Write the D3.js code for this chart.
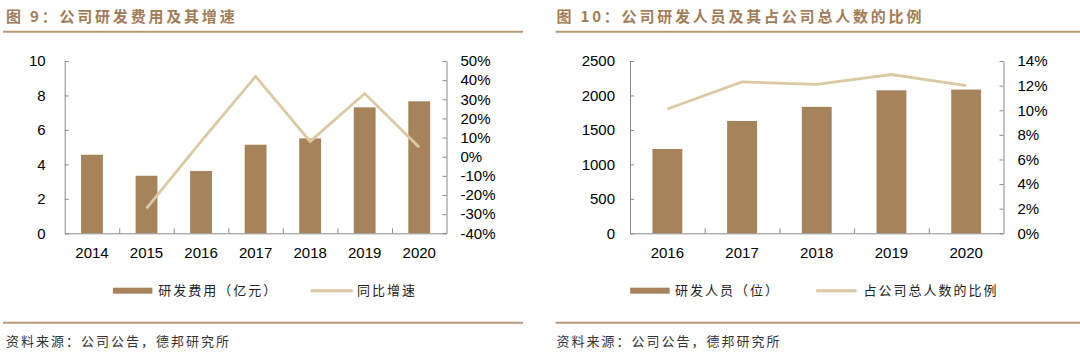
<!DOCTYPE html>
<html>
<head>
<meta charset="utf-8">
<script src="https://cdn.jsdelivr.net/npm/d3@7"></script>
<style>
  html, body { margin: 0; padding: 0; background: #fff; }
  svg { display: block; }
</style>
</head>
<body>
<svg id="chart" width="1080" height="355"></svg>
<script>
// ---------- Data ----------
const years1 = ["2014", "2015", "2016", "2017", "2018", "2019", "2020"];
const rdExpense = [4.56, 3.34, 3.62, 5.14, 5.51, 7.31, 7.66];        // 亿元
const rdGrowth = [null, -27, 8, 42, 8, 33, 5];                       // %
const leftTicks1 = [0, 2, 4, 6, 8, 10];
const rightTicks1 = [-40, -30, -20, -10, 0, 10, 20, 30, 40, 50];

const years2 = ["2016", "2017", "2018", "2019", "2020"];
const rdStaff = [1223, 1630, 1835, 2075, 2085];                      // 位
const staffRatio = [10.1, 12.3, 12.1, 12.9, 12.0];                   // %
const leftTicks2 = [0, 500, 1000, 1500, 2000, 2500];
const rightTicks2 = [0, 2, 4, 6, 8, 10, 12, 14];

const title1 = "图 9：公司研发费用及其增速";
const title2 = "图 10：公司研发人员及其占公司总人数的比例";
const legend1 = ["研发费用（亿元）", "同比增速"];
const legend2 = ["研发人员（位）", "占公司总人数的比例"];
const sourceText = "资料来源：公司公告，德邦研究所";

// ---------- Styles ----------
const BAR = "#a6835b";
const LINE = "#dbc9a3";
const BROWN = "#a27b57";
const RULE = "#b8997a";
const AXIS = "#8a8a8a";
const NUMFONT = "'Liberation Sans', Arial, sans-serif";
const CJKFONT = "'Noto Sans CJK SC', 'Noto Sans', sans-serif";

const svg = d3.select("#chart");

function panel(opt) {
  const g = svg.append("g");

  // Title
  g.append("text")
    .attr("x", opt.titleX).attr("y", 22)
    .attr("font-family", CJKFONT).attr("font-size", 15).attr("font-weight", "bold")
    .attr("letter-spacing", "2.8px")
    .attr("fill", BROWN)
    .text(opt.title);

  // rules
  g.append("line").attr("x1", opt.ruleX0).attr("x2", opt.ruleX1)
    .attr("y1", 31.7).attr("y2", 31.7).attr("stroke", RULE).attr("stroke-width", 2);
  g.append("line").attr("x1", opt.ruleX0).attr("x2", opt.ruleX1)
    .attr("y1", 322.7).attr("y2", 322.7).attr("stroke", RULE).attr("stroke-width", 2);

  // Source
  g.append("text")
    .attr("x", opt.titleX).attr("y", 341).attr("dy", "0.36em")
    .attr("font-family", CJKFONT).attr("font-size", 13)
    .attr("letter-spacing", "2px")
    .attr("fill", "#333")
    .text(sourceText);

  const top = 61, bottom = 233.3;
  const x = d3.scaleBand().domain(opt.cats).range([opt.x0, opt.x1])
    .paddingInner(0.6).paddingOuter(0.3);
  const yL = d3.scaleLinear().domain(d3.extent(opt.leftTicks)).range([bottom, top]);
  const yR = d3.scaleLinear().domain(d3.extent(opt.rightTicks)).range([bottom, top]);

  // Bars
  g.append("g").selectAll("rect").data(opt.bars).join("rect")
    .attr("x", (d, i) => x(opt.cats[i]))
    .attr("width", x.bandwidth())
    .attr("y", d => yL(d))
    .attr("height", d => yL(0) - yL(d))
    .attr("fill", BAR);

  // Line
  const line = d3.line()
    .defined(d => d != null)
    .x((d, i) => x(opt.cats[i]) + x.bandwidth() / 2)
    .y(d => yR(d));
  g.append("path").datum(opt.line)
    .attr("d", line)
    .attr("fill", "none").attr("stroke", LINE).attr("stroke-width", 2.8)
    .attr("stroke-linejoin", "miter");

  function styleAxis(sel) {
    sel.selectAll("path, line").attr("stroke", AXIS).attr("stroke-width", 1);
    sel.selectAll("text").attr("font-family", NUMFONT).attr("font-size", 15).attr("fill", "#000");
  }

  // Left axis
  g.append("g").attr("transform", `translate(${opt.x0},0)`)
    .call(d3.axisLeft(yL).tickValues(opt.leftTicks).tickSize(-4).tickSizeOuter(0)
      .tickPadding(opt.leftPad).tickFormat(d3.format("d")))
    .call(styleAxis);

  // Right axis
  g.append("g").attr("transform", `translate(${opt.x1},0)`)
    .call(d3.axisRight(yR).tickValues(opt.rightTicks).tickSize(-4).tickSizeOuter(0)
      .tickPadding(14).tickFormat(d => d + "%"))
    .call(styleAxis);

  // Bottom axis: labels
  g.append("g").attr("transform", `translate(0,${bottom})`)
    .call(d3.axisBottom(x).tickSize(0).tickSizeOuter(0).tickPadding(14))
    .call(styleAxis);

  // Bottom axis: boundary ticks
  const xb = d3.scaleLinear().domain([0, opt.cats.length]).range([opt.x0, opt.x1]);
  g.append("g").attr("transform", `translate(0,${bottom})`)
    .call(d3.axisBottom(xb).tickValues(d3.range(1, opt.cats.length)).tickSize(-5)
      .tickSizeOuter(0).tickFormat(""))
    .call(styleAxis)
    .call(s => s.select(".domain").remove());

  // Legend
  const ly = 290.7;
  const lg = g.append("g");
  lg.append("rect").attr("x", opt.leg[0]).attr("y", ly - 3)
    .attr("width", opt.leg[1] - opt.leg[0]).attr("height", 6).attr("fill", BAR);
  lg.append("text").attr("x", opt.leg[2]).attr("y", ly).attr("dy", "0.36em")
    .attr("font-family", CJKFONT).attr("font-size", 13).attr("letter-spacing", "2px")
    .attr("fill", "#222").text(opt.legendText[0]);
  lg.append("line").attr("x1", opt.leg[3]).attr("x2", opt.leg[4])
    .attr("y1", ly).attr("y2", ly).attr("stroke", LINE).attr("stroke-width", 3);
  lg.append("text").attr("x", opt.leg[5]).attr("y", ly).attr("dy", "0.36em")
    .attr("font-family", CJKFONT).attr("font-size", 13).attr("letter-spacing", "2px")
    .attr("fill", "#222").text(opt.legendText[1]);
}

panel({
  title: title1, titleX: 6, ruleX0: 3, ruleX1: 523,
  x0: 64.7, x1: 446.5, leftPad: 19,
  cats: years1, bars: rdExpense, line: rdGrowth,
  leftTicks: leftTicks1, rightTicks: rightTicks1,
  legendText: legend1,
  leg: [112.9, 152.4, 158.3, 310.7, 352.7, 356.9]
});

panel({
  title: title2, titleX: 556.5, ruleX0: 555.5, ruleX1: 1080,
  x0: 630, x1: 1003.5, leftPad: 15,
  cats: years2, bars: rdStaff, line: staffRatio,
  leftTicks: leftTicks2, rightTicks: rightTicks2,
  legendText: legend2,
  leg: [630.2, 669.7, 674.9, 816.3, 856.6, 863.5]
});
</script>
</body>
</html>
